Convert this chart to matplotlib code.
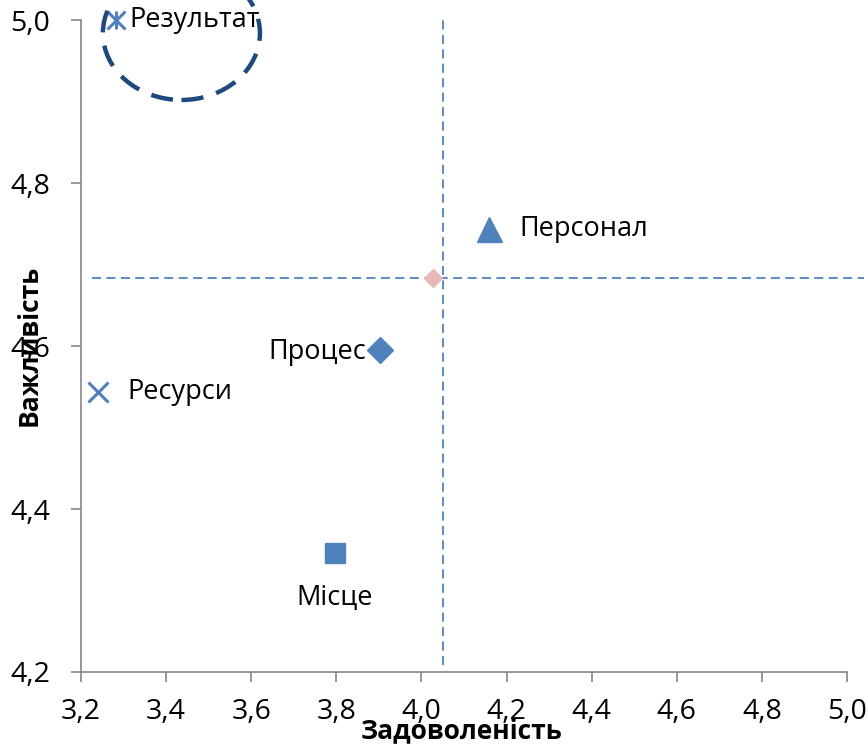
import matplotlib

matplotlib.use("Agg")
import matplotlib.pyplot as plt
from matplotlib.patches import Ellipse
from matplotlib.ticker import FuncFormatter

plt.rcParams["font.family"] = ["Open Sans", "DejaVu Sans"]

# data
names = ["Результат", "Персонал", "Процес", "Ресурси", "Місце"]
satisfaction = [3.282, 4.159, 3.903, 3.240, 3.797]
importance = [5.0, 4.744, 4.595, 4.544, 4.346]
markers = ["*x", "^", "D", "x", "s"]
mean_x, mean_y = 4.027, 4.683
vline_x = 4.051
xticks = [3.2, 3.4, 3.6, 3.8, 4.0, 4.2, 4.4, 4.6, 4.8, 5.0]
yticks = [4.2, 4.4, 4.6, 4.8, 5.0]

blue = "#4f81bd"

fig = plt.figure(figsize=(8.68, 7.45), dpi=100)
ax = fig.add_axes([0.0933, 0.098, 0.8825, 0.875])
ax.set_xlim(3.2, 5.0)
ax.set_ylim(4.2, 5.0)

# quadrant lines
ax.plot([vline_x, vline_x], [4.208, 5.0], ls=(0, (5, 3)), color=blue, lw=1.3)
ax.plot([3.225, 5.04], [mean_y, mean_y], ls=(0, (5, 3)), color=blue, lw=1.3,
        clip_on=False)
ax.plot(mean_x, mean_y, "D", color="#e6b9b8", ms=9, zorder=3)

for name, x, y, m in zip(names, satisfaction, importance, markers):
    if m == "*x":
        ax.plot(x, y, "x", color=blue, ms=13, mew=2.2, clip_on=False, zorder=4)
        ax.plot(x, y, "|", color=blue, ms=13, mew=2.2, clip_on=False, zorder=4)
    elif m == "x":
        ax.plot(x, y, "x", color=blue, ms=15, mew=2.2, zorder=4)
    elif m == "^":
        ax.plot(x, y, "^", color=blue, ms=18, zorder=4)
    elif m == "D":
        ax.plot(x, y, "D", color=blue, ms=13, zorder=4)
    else:
        ax.plot(x, y, "s", color=blue, ms=15, zorder=4)

lab = dict(fontsize=19.5, color="black", va="center")
ax.annotate(names[0], (satisfaction[0], importance[0]), xytext=(10, 0),
            textcoords="offset points", ha="left", **lab)
ax.annotate(names[1], (satisfaction[1], importance[1]), xytext=(22, 0),
            textcoords="offset points", ha="left", **lab)
ax.annotate(names[2], (satisfaction[2], importance[2]), xytext=(-10, -1),
            textcoords="offset points", ha="right", **lab)
ax.annotate(names[3], (satisfaction[3], importance[3]), xytext=(21, 0),
            textcoords="offset points", ha="left", **lab)
ax.annotate(names[4], (satisfaction[4], importance[4]), xytext=(0, -32),
            textcoords="offset points", ha="center", **lab)

# highlight around the top result
ax.add_patch(Ellipse((3.436, 4.984), 0.369, 0.164, fill=False, ec="#1f497d",
                     lw=3.2, ls=(0, (5, 3)), clip_on=False, zorder=5))

ax.set_xticks(xticks)
ax.set_yticks(yticks)
fmt = FuncFormatter(lambda v, _: f"{v:.1f}".replace(".", ","))
ax.xaxis.set_major_formatter(fmt)
ax.yaxis.set_major_formatter(fmt)
ax.tick_params(labelsize=20.5, length=7, color="#868686", width=1.2)
ax.tick_params(axis="x", pad=12)
ax.tick_params(axis="y", pad=15)

for s in ["top", "right"]:
    ax.spines[s].set_visible(False)
for s in ["left", "bottom"]:
    ax.spines[s].set_color("#868686")
    ax.spines[s].set_linewidth(1.2)

fig.text(0.532, 0.019, "Задоволеність", fontsize=19, fontweight="bold",
         ha="center", va="center")
fig.text(0.033, 0.537, "Важливість", fontsize=19, fontweight="bold",
         ha="center", va="center", rotation=90)

fig.savefig("out.png", dpi=100)
